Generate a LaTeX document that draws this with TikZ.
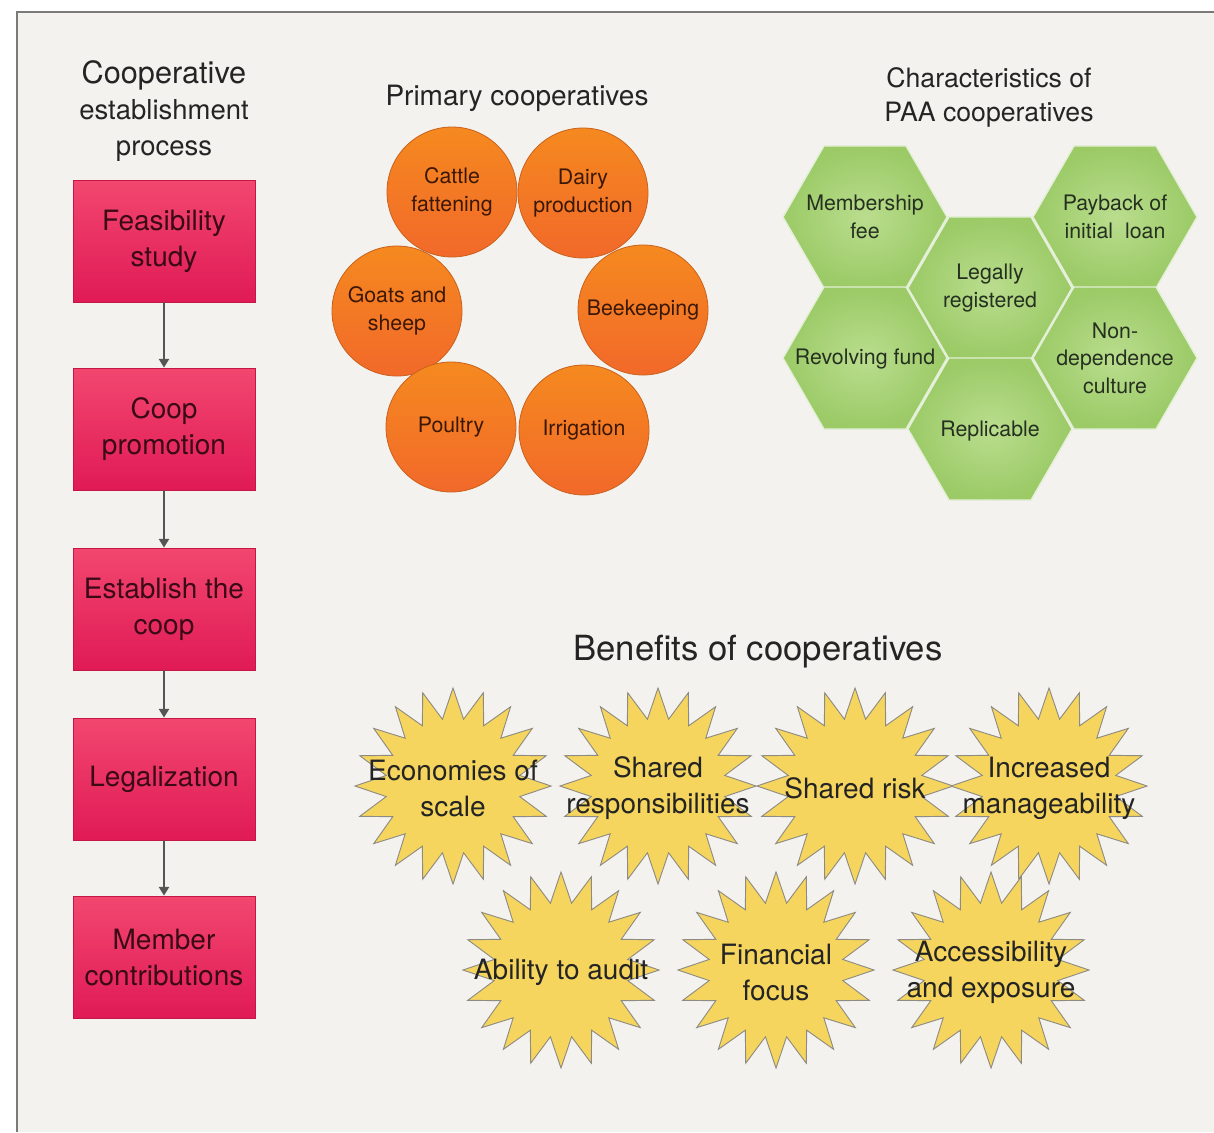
\documentclass[tikz,border=0pt]{standalone}
\usepackage{fontspec}
\setmainfont{TeX Gyre Heros}
\usetikzlibrary{shapes.geometric,arrows.meta}

\definecolor{pagebg}{HTML}{F4F2EE}
\definecolor{framegray}{HTML}{7A7A78}
\definecolor{inkdark}{HTML}{242424}
\definecolor{pinktop}{HTML}{F2476F}
\definecolor{pinkbot}{HTML}{E01A56}
\definecolor{pinkedge}{HTML}{C41746}
\definecolor{pinkink}{HTML}{3A0A16}
\definecolor{arrowgray}{HTML}{555555}
\definecolor{orangetop}{HTML}{F5891F}
\definecolor{orangebot}{HTML}{F2692A}
\definecolor{orangeedge}{HTML}{C9611C}
\definecolor{orangeink}{HTML}{3B1805}
\definecolor{greenin}{HTML}{BADD8E}
\definecolor{greenout}{HTML}{9BCA66}
\definecolor{greenedge}{HTML}{E3EFD6}
\definecolor{greenink}{HTML}{263020}
\definecolor{staryellow}{HTML}{F6D55E}
\definecolor{staredge}{HTML}{8E8C82}

\begin{document}
\begin{tikzpicture}[x=0.75pt,y=-0.75pt,
  heading/.style={text=inkdark, align=center, inner sep=0pt},
  stepbox/.style={rectangle, minimum width=136.5pt, minimum height=91.5pt,
    inner sep=2pt, top color=pinktop, bottom color=pinkbot, draw=pinkedge,
    line width=0.6pt, text=pinkink, align=center,
    font=\fontsize{21}{27}\selectfont},
  flowarrow/.style={draw=arrowgray, line width=1.5pt,
    -{Triangle[width=7.5pt,length=6.5pt]}},
  coop/.style={circle, minimum size=97.5pt, inner sep=0pt,
    top color=orangetop, bottom color=orangebot, draw=orangeedge,
    line width=0.6pt, text=orangeink, align=center,
    font=\fontsize{16}{21}\selectfont},
  trait/.style={regular polygon, regular polygon sides=6, minimum size=123pt,
    inner sep=0pt, inner color=greenin, outer color=greenout,
    draw=greenedge, line width=1pt},
  traittext/.style={text=greenink, align=center, inner sep=0pt,
    font=\fontsize{16}{20.7}\selectfont},
  burst/.style={star, star points=20, star point ratio=1.45,
    minimum size=147pt, inner sep=0pt, fill=staryellow, draw=staredge,
    line width=0.7pt},
  bursttext/.style={text=inkdark, align=center, inner sep=0pt,
    font=\fontsize{21}{27}\selectfont}
]
\useasboundingbox (0,0) rectangle (1214,1132);

% page and frame
\fill[white] (0,0) rectangle (1214,1132);
\fill[pagebg] (17,12) rectangle (1214,1132);
\draw[framegray, line width=1.5pt] (17,1132) -- (17,12) -- (1214,12);

% ---- establishment process ----
\node[heading, font=\fontsize{20.6}{27}\selectfont] (proc-title) at (164,111)
  {{\fontsize{23}{27}\selectfont Cooperative}\\establishment\\process};

\node[stepbox] (feas)  at (164,241) {Feasibility\\study};
\node[stepbox] (promo) at (164,429) {Coop\\promotion};
\node[stepbox] (estab) at (164,609) {Establish the\\coop};
\node[stepbox] (legal) at (164,779) {Legalization};
\node[stepbox] (contr) at (164,957) {Member\\contributions};

\draw[flowarrow] (feas)  -- (promo);
\draw[flowarrow] (promo) -- (estab);
\draw[flowarrow] (estab) -- (legal);
\draw[flowarrow] (legal) -- (contr);

% ---- primary cooperatives ----
\node[heading, font=\fontsize{21}{25}\selectfont] (prim-title) at (517,98)
  {Primary cooperatives};

\node[coop] (cattle) at (452,192) {Cattle\\fattening};
\node[coop] (dairy)  at (583,193) {Dairy\\production};
\node[coop] (goats)  at (397,311) {Goats and\\sheep};
\node[coop] (bees)   at (643,310) {Beekeeping};
\node[coop] (poultry) at (451,427) {Poultry};
\node[coop] (irrig)  at (584,430) {Irrigation};

% ---- characteristics ----
\node[heading, font=\fontsize{20}{25.5}\selectfont] (char-title) at (989,97)
  {Characteristics of\\PAA cooperatives};

\node[trait] (memb)  at (865,217) {};
\node[trait] (payb)  at (1115,217) {};
\node[trait] (legl)  at (990,288) {};
\node[trait] (revf)  at (865,358) {};
\node[trait] (nond)  at (1115,358) {};
\node[trait] (repl)  at (990,429) {};

\node[traittext] at (memb) {Membership\\fee};
\node[traittext] at (payb) {Payback of\\initial\ \ loan};
\node[traittext] at (legl) {Legally\\registered};
\node[traittext] at ([yshift=-1pt]revf) {Revolving fund};
\node[traittext] at (nond) {Non-\\dependence\\culture};
\node[traittext] at ([yshift=-1.5pt]repl) {Replicable};

% ---- benefits ----
\node[heading, font=\fontsize{26}{30}\selectfont] (ben-title) at (758,652)
  {Benefits of cooperatives};

\node[burst] (econ)  at (453,786) {};
\node[burst] (shres) at (658,786) {};
\node[burst] (shrisk) at (855,786) {};
\node[burst] (incr)  at (1049,786) {};
\node[burst] (audit) at (561,970) {};
\node[burst] (finan) at (776,970) {};
\node[burst] (access) at (991,970) {};

\node[bursttext] at ([yshift=-1.5pt]econ)  {Economies of\\scale};
\node[bursttext] at ([yshift=-1.5pt]shres) {Shared\\responsibilities};
\node[bursttext] at ([yshift=-1.5pt]shrisk) {Shared risk};
\node[bursttext] at ([yshift=-1.5pt]incr)  {Increased\\manageability};
\node[bursttext] at ([yshift=-1.5pt]audit) {Ability to audit};
\node[bursttext] at ([yshift=-1.5pt]finan) {Financial\\focus};
\node[bursttext] at ([yshift=-1.5pt]access) {Accessibility\\and exposure};
\end{tikzpicture}
\end{document}
